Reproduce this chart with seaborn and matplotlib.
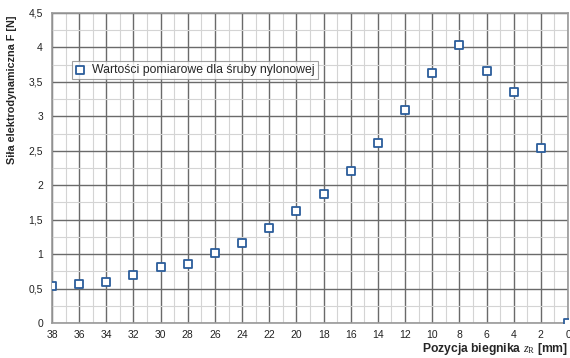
import matplotlib
matplotlib.use("Agg")
import matplotlib.pyplot as plt
from matplotlib.ticker import MultipleLocator, FuncFormatter
import pandas as pd
import seaborn as sns

position_mm = [38, 36, 34, 32, 30, 28, 26, 24, 22, 20, 18, 16, 14, 12, 10, 8, 6, 4, 2, 0]
force_n = [0.53, 0.57, 0.60, 0.70, 0.81, 0.86, 1.01, 1.16, 1.38, 1.63, 1.87, 2.21, 2.61,
           3.09, 3.63, 4.04, 3.66, 3.35, 2.54, 0.0]
series_label = "Wartości pomiarowe dla śruby nylonowej"

df = pd.DataFrame({"z": position_mm, "F": force_n})

sns.set_style("white")
plt.rcParams["font.family"] = ["Liberation Sans", "DejaVu Sans"]
plt.rcParams["mathtext.fontset"] = "custom"
plt.rcParams["mathtext.rm"] = "Liberation Serif"
plt.rcParams["mathtext.it"] = "Liberation Serif:italic"

fig = plt.figure(figsize=(5.7, 3.58), dpi=100)
ax = fig.add_axes([52 / 570, 35 / 358, 516 / 570, 310 / 358])

sns.scatterplot(
    data=df, x="z", y="F", ax=ax,
    marker="s", s=30, facecolor="white", edgecolor="#2b5d9b", linewidth=1.3,
    label=series_label, zorder=5,
)

ax.set_xlim(38, 0)
ax.set_ylim(0, 4.5)
ax.xaxis.set_major_locator(MultipleLocator(2))
ax.xaxis.set_minor_locator(MultipleLocator(1))
ax.yaxis.set_major_locator(MultipleLocator(0.5))
ax.yaxis.set_minor_locator(MultipleLocator(0.25))

comma = FuncFormatter(lambda v, _: f"{v:g}".replace(".", ","))
ax.yaxis.set_major_formatter(comma)
ax.xaxis.set_major_formatter(comma)

ax.grid(which="major", color="#6a6a6a", linewidth=1.0)
ax.grid(which="minor", color="#d4d4d4", linewidth=0.8)
ax.set_axisbelow(True)
for sp in ax.spines.values():
    sp.set_color("#9a9a9a")
    sp.set_linewidth(1.2)

ax.tick_params(which="both", length=0, labelsize=7.5, colors="#222222")
ax.tick_params(axis="x", pad=5)
ax.tick_params(axis="y", pad=6.5)

ax.set_xlabel(r"Pozycja biegnika $z_\mathrm{R}$ [mm]", fontsize=8.7, fontweight="bold",
              loc="right")
ax.set_ylabel("Siła elektrodynamiczna F [N]", fontsize=7.8, fontweight="bold",
              loc="top")
ax.xaxis.set_label_coords(1.0, (323 - 349) / 310)
ax.xaxis.label.set_va("center")
ax.yaxis.set_label_coords((12 - 52) / 516, (323 - 15) / 310)
ax.yaxis.label.set_va("center")

leg = ax.legend(loc="upper left", bbox_to_anchor=(0.039, 0.845), fontsize=8.8,
                frameon=True, fancybox=False, handlelength=0.8, handletextpad=0.6,
                borderpad=0.25, borderaxespad=0)
leg.get_frame().set_edgecolor("#8a8a8a")
leg.get_frame().set_linewidth(0.8)

fig.savefig("out.png", dpi=100)
